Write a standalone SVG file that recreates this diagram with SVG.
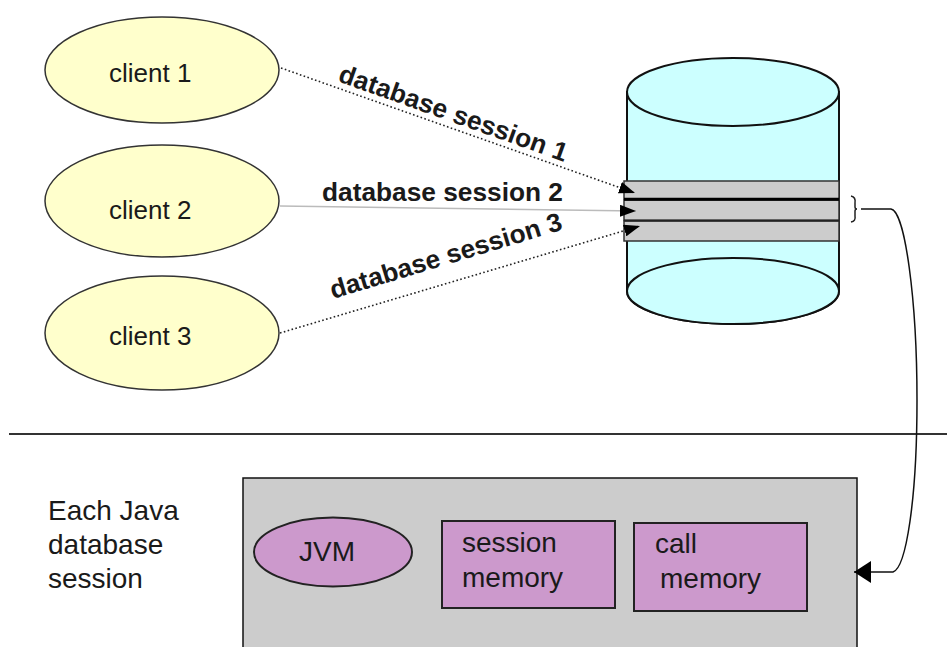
<svg xmlns="http://www.w3.org/2000/svg" width="947" height="647" viewBox="0 0 947 647">
<defs>
<style>
.client{fill:#ffffcc;stroke:#333;stroke-width:1.5}
.t{font-family:"Liberation Sans",Arial,sans-serif;fill:#1a1a1a}
.ct{font-size:26px}
.lt{font-size:28px}
.lbl{font-size:26px;font-weight:bold}
.dot{fill:none;stroke:#222;stroke-width:1.6;stroke-dasharray:1.6 2.4}
.purple{fill:#cc99cc;stroke:#222;stroke-width:2}
.cyl{fill:#ccffff;stroke:#111;stroke-width:2}
.band{fill:#cccccc;stroke:#333;stroke-width:1.5}
</style>
<marker id="ah" viewBox="0 0 16 12" refX="16" refY="6" markerWidth="16" markerHeight="12" markerUnits="userSpaceOnUse" orient="auto">
<path d="M0,0 L16,6 L0,12 Z" fill="#000"/>
</marker>
<marker id="ah2" viewBox="0 0 17 22" refX="17" refY="11" markerWidth="17" markerHeight="22" markerUnits="userSpaceOnUse" orient="auto">
<path d="M0,0 L17,11 L0,22 Z" fill="#000"/>
</marker>
</defs>

<g id="divider">
<line x1="9" y1="434" x2="947" y2="434" stroke="#333" stroke-width="2"/>
</g>

<g id="database">
<path class="cyl" d="M627,92 L627,291 A106,33 0 0 0 839,291 L839,92 Z"/>
<ellipse class="cyl" cx="733" cy="92" rx="106" ry="34"/>
<ellipse class="cyl" cx="733" cy="291" rx="106" ry="33"/>
<rect class="band" x="624" y="181" width="215" height="18"/>
<rect class="band" x="624" y="200" width="215" height="20.5"/>
<rect class="band" x="624" y="221" width="215" height="20"/>
<line x1="624" y1="199.2" x2="839" y2="199.2" stroke="#000" stroke-width="3"/>
<line x1="624" y1="220.5" x2="839" y2="220.5" stroke="#222" stroke-width="2"/>
</g>

<g id="client1">
<ellipse class="client" cx="162" cy="70" rx="117" ry="53"/>
<text class="t ct" x="109" y="82">client 1</text>
</g>
<g id="client2">
<ellipse class="client" cx="162" cy="201" rx="117" ry="56"/>
<text class="t ct" x="109" y="219">client 2</text>
</g>
<g id="client3">
<ellipse class="client" cx="162" cy="333" rx="117" ry="57"/>
<text class="t ct" x="109" y="345">client 3</text>
</g>

<g id="caption">
<text class="t lt" x="48" y="520">Each Java</text>
<text class="t lt" x="48" y="554">database</text>
<text class="t lt" x="48" y="588">session</text>
</g>

<g id="java-session">
<rect x="243" y="478" width="614" height="185" fill="#cccccc" stroke="#111" stroke-width="1.5"/>
</g>
<g id="jvm">
<ellipse class="purple" cx="333" cy="552" rx="79" ry="34.5" stroke-width="1.5"/>
<text class="t lt" x="327" y="561" text-anchor="middle" font-size="27">JVM</text>
</g>
<g id="session-memory">
<rect class="purple" x="442" y="521" width="173" height="87"/>
<text class="t lt" x="462" y="552">session</text>
<text class="t lt" x="462" y="587">memory</text>
</g>
<g id="call-memory">
<rect class="purple" x="634" y="523" width="173" height="88"/>
<text class="t lt" x="655" y="553">call</text>
<text class="t lt" x="660" y="588">memory</text>
</g>

<g id="connectors">
<path class="dot" d="M281,68 L635,193" marker-end="url(#ah)"/>
<path d="M280,206 L636,211" fill="none" stroke="#bbbbbb" stroke-width="1.5" marker-end="url(#ah)"/>
<path class="dot" d="M280,333 L640,226" marker-end="url(#ah)"/>
<path d="M851,196 Q856,197 855,203 L855,207 Q855,209 857,209 Q855,209 855,211 L855,216 Q856,221 851,222" fill="none" stroke="#222" stroke-width="1.5"/>
<path d="M861,209 L891,209 C905,211 917,300 917,400 C917,500 906,568 893,572 L854,572" fill="none" stroke="#111" stroke-width="1.5" marker-end="url(#ah2)"/>
<text class="t lbl" x="0" y="0" transform="translate(337,81) rotate(19.6)" textLength="241" lengthAdjust="spacingAndGlyphs">database session 1</text>
<text class="t lbl" x="322" y="201" textLength="241" lengthAdjust="spacingAndGlyphs">database session 2</text>
<text class="t lbl" x="0" y="0" transform="translate(333,299) rotate(-16.8)" textLength="241" lengthAdjust="spacingAndGlyphs">database session 3</text>
</g>
</svg>
